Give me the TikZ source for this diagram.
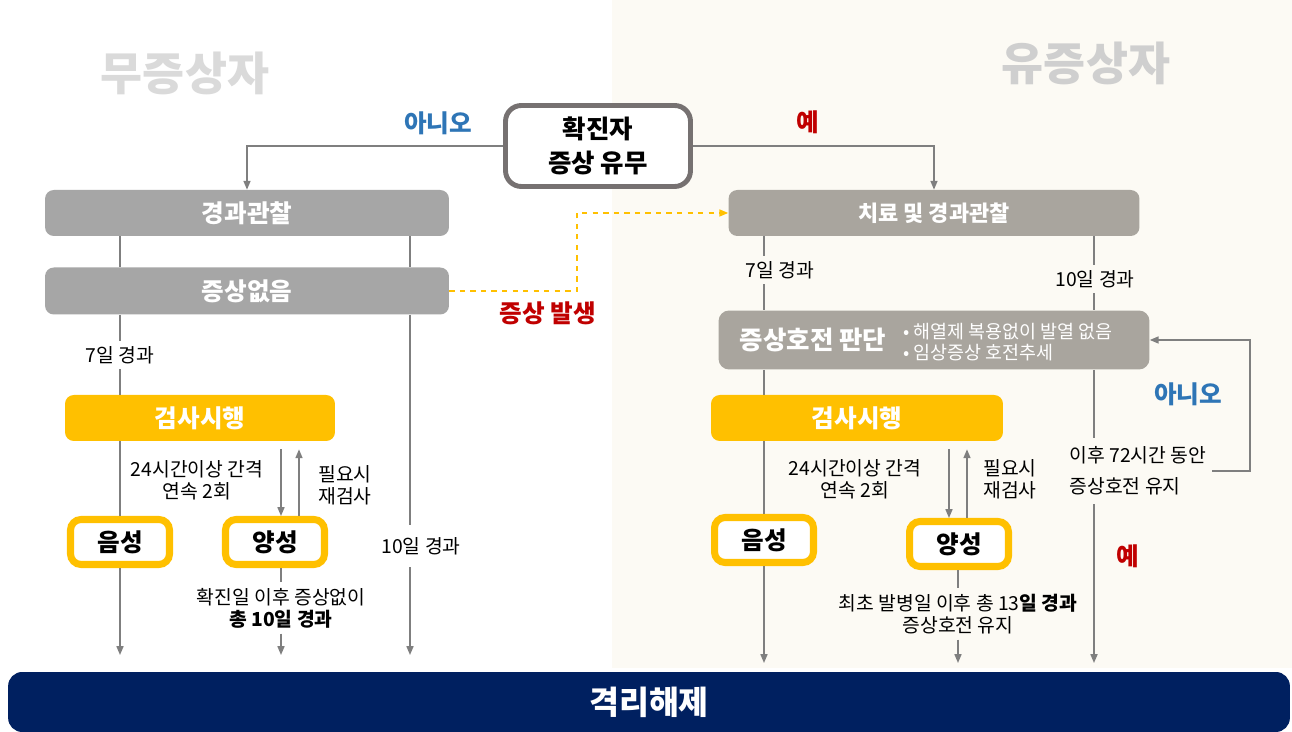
\documentclass[tikz,border=0pt]{standalone}
\usepackage{fontspec}
\setmainfont{Noto Sans CJK KR}
\usetikzlibrary{arrows.meta}

\definecolor{boxgray}{HTML}{A6A6A6}
\definecolor{warmgray}{HTML}{A9A59E}
\definecolor{testyellow}{HTML}{FFC000}
\definecolor{linegray}{HTML}{7F7F7F}
\definecolor{framegray}{HTML}{767171}
\definecolor{navy}{HTML}{002060}
\definecolor{titlegray}{HTML}{DADADA}
\definecolor{noblue}{HTML}{2E75B6}
\definecolor{yesred}{HTML}{C00000}
\definecolor{rightbg}{HTML}{FCFAF4}

\begin{document}
\begin{tikzpicture}[x=0.02cm, y=-0.02cm,
    flow/.style={draw=linegray, line width=0.8pt},
    arr/.style={flow, -{Triangle[length=5pt, width=4pt]}},
    stagebox/.style={rectangle, rounded corners=5pt, fill=boxgray, text=white,
        minimum height=0.92cm, font=\fontsize{14}{16}\selectfont\bfseries},
    testbox/.style={rectangle, rounded corners=5pt, fill=testyellow, text=white,
        minimum width=5.4cm, minimum height=0.92cm, font=\fontsize{14}{16}\selectfont\bfseries},
    resultbox/.style={rectangle, rounded corners=6pt, draw=testyellow, line width=4pt, fill=white,
        minimum width=1.98cm, minimum height=0.9cm, font=\fontsize{14}{16}\selectfont\bfseries},
    note/.style={align=center, inner sep=3pt, font=\fontsize{11}{12.5}\selectfont},
    answer/.style={font=\fontsize{14}{16}\selectfont\bfseries},
    title/.style={text=titlegray, font=\fontsize{26}{28}\selectfont\bfseries}]

\useasboundingbox (0,0) rectangle (1292,732);
\fill[white] (0,0) rectangle (1292,732);
\fill[rightbg] (612,0) rectangle (1292,668);

% group titles
\node[title] (quiet) at (185,73) {무증상자};
\node[title, text=titlegray!95!black] (sick) at (1086,63) {유증상자};

% decision box
\node[draw=framegray, line width=2.8pt, rounded corners=9pt, fill=white, align=center,
    minimum width=3.7cm, minimum height=1.62cm, font=\fontsize{14.5}{19}\selectfont\bfseries]
    (status) at (598,146) {확진자\\증상 유무};
\node[answer, text=noblue] (no1) at (438,123) {아니오};
\node[answer, text=yesred] (yes1) at (808,122) {예};

% left branch
\node[stagebox, minimum width=8.08cm] (lobs) at (247,213) {경과관찰};
\node[stagebox, minimum width=8.08cm, minimum height=0.94cm] (lnone) at (247,291) {증상없음};
\node[note] (l7) at (120,355) {7일 경과};
\node[testbox] (ltest) at (200,418) {검사시행};
\node[note] (lint) at (197,480) {24시간이상 간격\\연속 2회};
\node[note] (lre) at (345,485) {필요시\\재검사};
\node[resultbox] (lneg) at (120,542) {음성};
\node[resultbox] (lpos) at (275,542) {양성};
\node[note, inner ysep=7pt] (l10) at (421,546) {10일 경과};
\node[note] (lafter) at (281,608) {확진일 이후 증상없이\\\textbf{총 10일 경과}};

% right branch
\node[stagebox, fill=warmgray, minimum width=8.22cm, font=\fontsize{12.5}{14}\selectfont\bfseries]
    (robs) at (934,213) {치료 및 경과관찰};
\node[note] (r7) at (780,270) {7일 경과};
\node[note] (r10) at (1095,279) {10일 경과};
\node[rectangle, rounded corners=6pt, fill=warmgray, minimum width=8.62cm, minimum height=1.18cm]
    (rjudge) at (934,340) {};
\node[text=white, font=\fontsize{14.5}{16}\selectfont\bfseries] (rjtitle) at (813,340) {증상호전 판단};
\node[text=white, align=left, font=\fontsize{10.5}{12}\selectfont] (rjlist) at (1008,342)
    {• 해열제 복용없이 발열 없음\\• 임상증상 호전추세};
\node[testbox, minimum width=5.84cm] (rtest) at (857,418) {검사시행};
\node[note] (rint) at (855,479) {24시간이상 간격\\연속 2회};
\node[note] (rre) at (1010,479) {필요시\\재검사};
\node[resultbox] (rneg) at (764,540) {음성};
\node[resultbox] (rpos) at (959,544) {양성};
\node[note, font=\fontsize{11}{17.5}\selectfont, align=left, anchor=west, inner ysep=5pt]
    (r72) at (1064,471) {이후 72시간 동안\\증상호전 유지};
\node[answer, text=noblue] (no2) at (1188,394) {아니오};
\node[answer, text=yesred] (yes2) at (1128,556) {예};
\node[note] (rafter) at (958,614) {최초 발병일 이후 총 13\textbf{일 경과}\\증상호전 유지};
\node[answer, text=yesred] (onset) at (548,313) {증상 발생};

% release bar
\node[rectangle, rounded corners=8pt, fill=navy, text=white, minimum width=25.64cm,
    minimum height=1.2cm, font=\fontsize{18.5}{20}\selectfont\bfseries] (release) at (649,702) {격리해제};

% helper columns
\coordinate (lten) at (410,0);
\coordinate (lpdown) at (281,0);
\coordinate (lpup) at (299,0);
\coordinate (lend) at (0,655);
\coordinate (rten) at (1094,0);
\coordinate (rpdown) at (949,0);
\coordinate (rpup) at (967,0);
\coordinate (rloop) at (1250,0);
\coordinate (rend) at (0,663);
\coordinate (jog) at (577,213);

% connectors
\draw[arr] (status.west) -| (lobs.north);
\draw[arr] (status.east) -| (robs.north);
\draw[arr, draw=testyellow, dashed] (lnone.east) -| (jog) -- (robs.west);

\draw[flow] (lobs.south -| lneg) -- (lnone.north -| lneg);
\draw[flow] (lnone.south -| lneg) -- (l7.north);
\draw[flow] (l7.south) -- (ltest.north -| lneg);
\draw[flow] (ltest.south -| lneg) -- (lneg.north);
\draw[arr] (lneg.south) -- (lneg |- lend);
\draw[flow] (lobs.south -| lten) -- (lnone.north -| lten);
\draw[flow] (lnone.south -| lten) -- (l10.north -| lten);
\draw[arr] (l10.south -| lten) -- (lten |- lend);
\draw[arr, shorten <=0.16cm] (ltest.south -| lpdown) -- (lpos.north -| lpdown);
\draw[arr, shorten >=0.16cm] (lpos.north -| lpup) -- (ltest.south -| lpup);
\draw[flow] (lpos.south -| lpdown) -- (lafter.north -| lpdown);
\draw[arr] (lafter.south -| lpdown) -- (lpdown |- lend);

\draw[flow] (robs.south -| rneg) -- (r7.north -| rneg);
\draw[flow] (r7.south -| rneg) -- (rjudge.north -| rneg);
\draw[flow] (rjudge.south -| rneg) -- (rtest.north -| rneg);
\draw[flow] (rtest.south -| rneg) -- (rneg.north);
\draw[arr] (rneg.south) -- (rneg |- rend);
\draw[flow] (robs.south -| rten) -- (r10.north -| rten);
\draw[flow] (r10.south -| rten) -- (rjudge.north -| rten);
\draw[flow] (rjudge.south -| rten) -- (r72.north -| rten);
\draw[arr] (r72.south -| rten) -- (rten |- rend);
\draw[arr] (r72.east) -| (rloop |- rjudge) -- (rjudge.east);
\draw[arr, shorten <=0.16cm] (rtest.south -| rpdown) -- (rpos.north -| rpdown);
\draw[arr, shorten >=0.16cm] (rpos.north -| rpup) -- (rtest.south -| rpup);
\draw[flow] (rpos.south -| rafter) -- (rafter.north);
\draw[arr] (rafter.south) -- (rafter |- rend);

\end{tikzpicture}
\end{document}
